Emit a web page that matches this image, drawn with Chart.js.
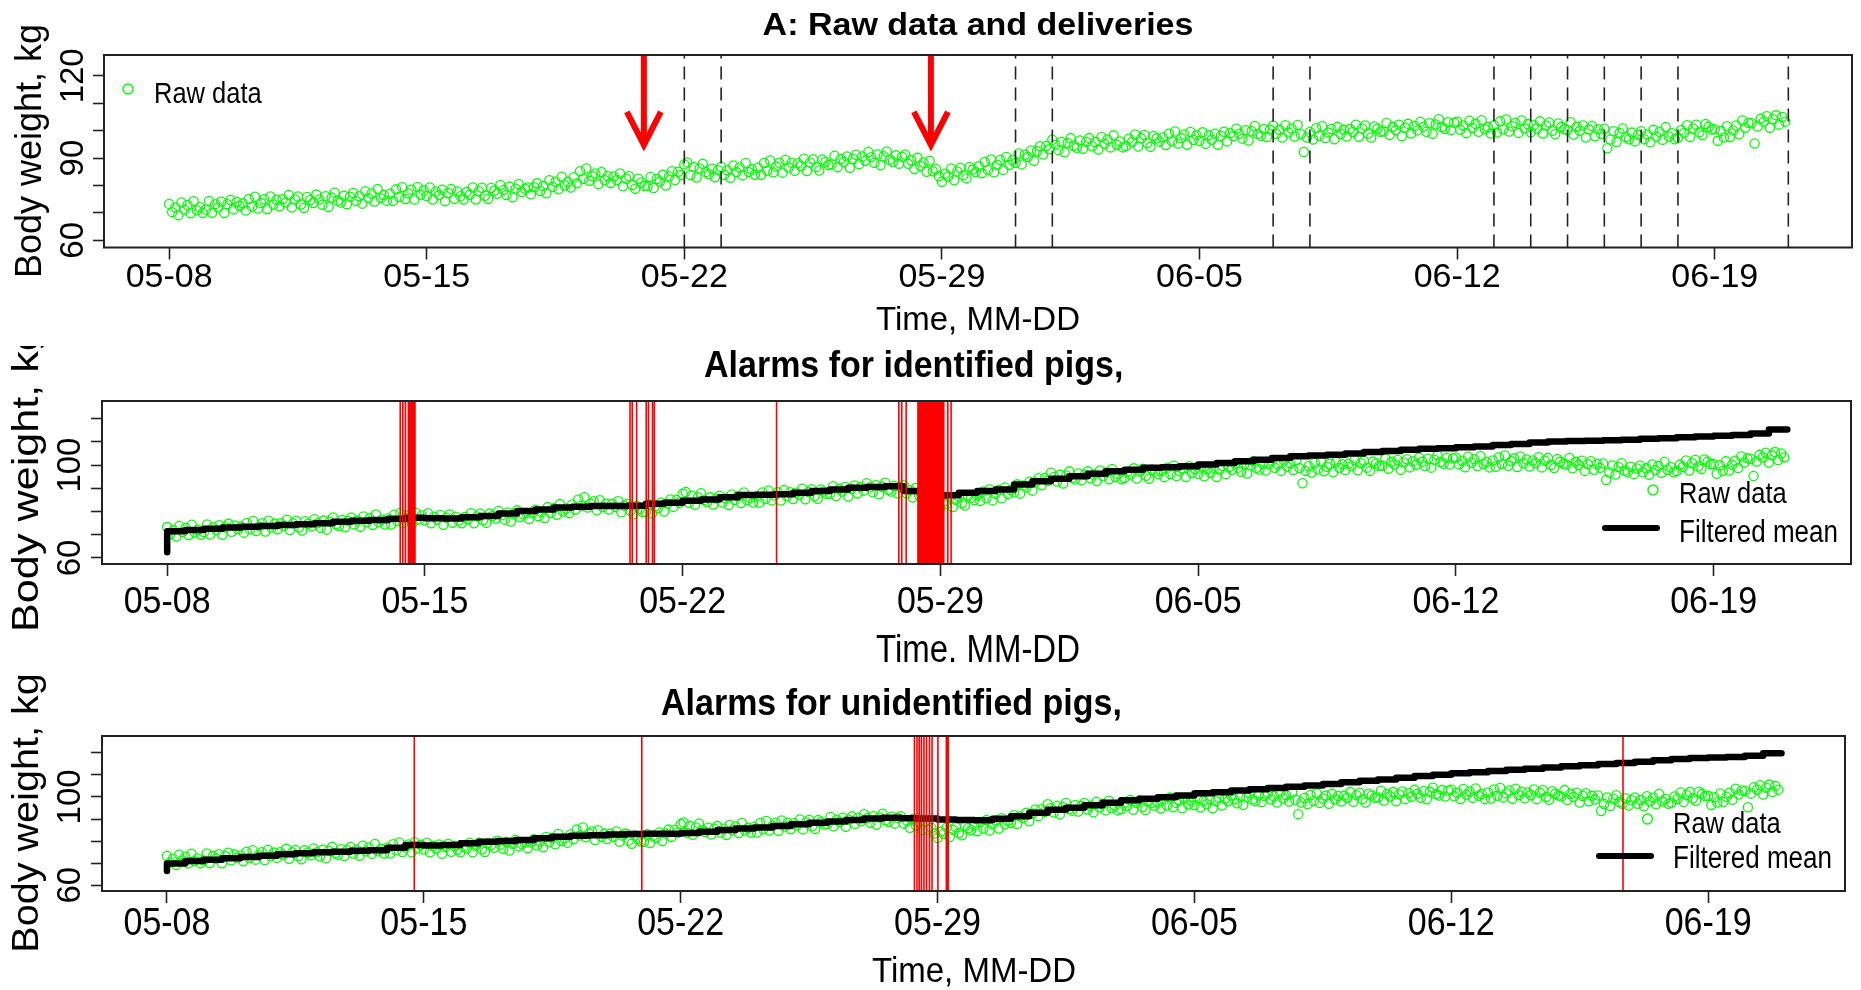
<!DOCTYPE html>
<html><head><meta charset="utf-8">
<script src="https://cdn.jsdelivr.net/npm/chart.js@4/dist/chart.umd.min.js"></script>
<style>
html,body{margin:0;padding:0;background:#fff;overflow:hidden;}
#wrap{position:relative;width:1861px;height:990px;background:#fff;}
canvas{position:absolute;left:0;}
</style></head><body>
<div id="wrap">
<canvas id="cA" width="1861" height="346" style="top:0px"></canvas>
<canvas id="cB" width="1861" height="324" style="top:346px"></canvas>
<canvas id="cC" width="1861" height="320" style="top:670px"></canvas>
</div>
<script>
// ---------------- data (x = days after 05-08) ----------------
const rawStartDay = 0;
const rawStepDay = 1 / 12;   // one reading every 2 hours
const rawWeight = [
73.3,70.3,72.0,69.2,73.8,71.2,72.9,69.9,74.3,71.0,72.1,70.0,
71.2,74.4,70.1,73.2,72.0,74.1,70.0,73.2,74.7,71.3,74.0,72.5,
73.5,70.9,75.1,72.3,75.9,71.6,73.6,75.0,71.4,76.0,73.1,74.8,
72.4,75.0,73.8,76.5,72.0,74.9,76.0,73.1,71.8,75.8,74.7,73.6,
76.7,74.9,73.0,76.1,72.2,75.6,77.4,74.5,73.8,76.3,73.2,75.9,
77.3,74.4,76.1,73.4,77.9,75.4,77.1,74.2,78.7,75.4,76.5,74.4,
77.0,74.4,78.6,75.8,79.4,75.1,77.1,78.5,74.9,79.5,76.6,78.3,
76.2,79.3,74.9,77.8,76.5,78.5,74.3,77.3,78.7,75.2,77.8,76.1,
74.9,77.6,76.6,79.3,74.9,77.9,79.2,76.3,75.1,79.1,78.1,77.0,
80.2,78.4,76.5,79.6,75.7,78.8,80.5,77.6,78.8,79.3,76.8,79.4,
80.8,78.0,79.8,77.2,81.9,79.5,81.4,78.6,83.2,80.0,81.3,79.3,
83.0,80.8,85.2,82.5,86.2,81.7,83.4,84.4,80.5,84.9,81.9,83.4,
80.9,83.3,82.0,84.4,79.7,82.5,83.4,80.2,78.8,82.5,81.1,79.8,
79.7,83.1,79.1,82.4,81.5,83.9,80.0,83.4,85.2,82.0,85.0,83.8,
87.7,88.4,83.8,86.8,82.9,86.2,87.9,84.9,84.1,86.1,83.0,85.6,
86.8,83.9,85.6,82.8,87.3,84.9,86.6,83.7,88.2,84.9,85.9,83.9,
86.5,83.9,88.2,85.4,89.1,84.8,86.9,88.3,84.7,89.3,86.6,88.3,
85.4,88.1,87.1,89.8,85.3,88.4,89.6,86.7,85.5,89.5,88.6,87.5,
87.7,90.9,86.7,89.7,88.6,90.6,86.5,89.7,91.2,87.8,90.6,89.0,
92.2,90.3,88.3,91.3,87.4,90.7,92.4,89.4,88.6,91.0,87.9,90.5,
91.3,87.9,89.2,86.0,90.1,87.1,88.4,85.0,89.0,85.2,86.0,83.4,
81.4,84.3,83.3,86.2,81.9,85.1,86.4,83.7,82.6,86.8,85.8,84.9,
87.0,84.5,88.6,85.7,89.5,84.8,87.6,89.3,85.7,90.4,87.6,89.2,
88.2,91.7,87.7,91.2,90.4,92.8,89.0,92.5,94.3,91.3,94.4,93.2,
96.7,94.9,92.9,95.9,92.1,95.5,97.3,94.5,93.8,96.4,93.4,95.9,
97.3,94.3,95.9,93.1,97.7,95.2,96.8,93.9,98.3,94.9,96.1,93.9,
94.4,97.1,95.9,98.6,94.2,97.2,98.4,95.4,94.1,98.1,97.2,96.0,
97.5,94.8,98.9,96.1,99.7,95.3,97.3,98.6,94.9,99.5,96.6,98.3,
96.2,99.4,95.2,98.3,96.7,98.9,94.9,98.1,99.6,96.1,99.1,98.0,
100.7,98.9,97.1,100.2,96.4,99.8,101.7,98.8,98.1,100.6,97.7,100.4,
101.8,98.8,100.3,97.5,102.0,99.3,100.8,97.9,102.1,98.7,92.2,97.5,
99.5,96.8,100.9,98.1,101.6,97.3,99.3,100.6,96.9,101.4,98.8,100.4,
97.9,100.6,99.5,102.2,97.8,100.8,101.9,98.9,97.5,101.5,100.7,99.6,
99.7,102.8,98.4,101.4,100.2,102.2,98.0,101.1,102.5,99.0,101.7,100.1,
103.2,101.4,99.6,102.7,98.9,102.3,104.2,101.3,100.6,103.1,100.2,102.9,
103.3,100.3,101.9,99.1,103.6,101.0,102.5,99.6,103.8,100.5,101.3,99.0,
102.0,99.3,103.4,100.5,104.1,99.7,101.6,102.9,99.2,103.7,100.8,102.4,
99.4,102.0,100.8,103.4,99.0,101.9,103.0,100.0,98.7,102.6,101.4,100.6,
100.2,103.1,98.6,101.4,100.0,101.9,97.5,100.4,101.7,98.0,100.5,98.8,
100.7,93.6,96.8,99.8,95.9,99.2,100.8,97.7,96.9,99.3,96.1,98.5,
99.8,96.9,98.6,95.8,100.3,97.9,99.6,96.7,101.3,97.9,99.1,96.9,
97.4,100.2,99.2,102.0,97.7,100.8,102.2,99.4,98.3,102.4,101.4,100.4,
100.5,96.3,99.9,97.5,101.6,97.7,100.1,101.9,98.7,103.7,101.1,102.9,
102.7,95.3,101.5,104.4,103.3,105.3,101.1,104.2,105.6,102.2,105.0,103.3
];
const meanStepDay = 0.5;
const meanIdentified = [
62.5,71.5,72.0,72.6,73.1,73.4,73.8,74.2,74.5,74.9,75.6,76.0,76.4,76.9,77.3,77.1,77.0,77.5,78.1,79.2,
80.2,80.9,81.7,82.1,82.4,82.4,82.5,83.3,83.8,84.6,85.2,86.2,87.1,87.2,87.4,88.1,88.8,89.5,90.2,90.6,
90.9,88.8,86.0,87.0,88.1,88.8,89.5,91.6,93.0,94.1,95.2,96.3,97.3,98.0,98.8,99.1,99.5,100.2,100.9,101.6,
102.3,103.0,103.8,104.1,104.5,105.0,105.6,106.1,106.6,107.0,107.3,107.7,108.0,108.6,109.1,109.7,110.2,110.4,110.5,110.7,
110.9,111.3,111.6,112.0,112.3,112.6,113.0,113.6,115.3
];
const meanUnidentified = [
66.5,69.8,71.0,71.6,72.2,72.8,73.4,74.0,74.5,74.9,75.2,75.6,75.9,77.0,78.2,78.0,78.2,79.0,79.7,80.1,
80.5,81.3,82.0,82.4,82.7,83.0,83.2,83.3,83.3,83.7,84.2,85.0,85.7,86.2,86.8,87.6,88.3,88.9,89.5,90.2,
90.6,90.4,90.2,89.8,89.5,89.4,90.1,91.3,92.8,94.2,95.1,96.2,97.4,98.5,99.2,99.9,100.6,101.7,102.1,102.9,
103.5,104.0,104.6,105.2,105.9,106.7,107.3,107.9,108.7,109.5,110.1,110.7,111.2,111.8,112.3,112.8,113.3,113.9,114.3,114.9,
115.4,115.9,116.6,117.2,117.6,117.9,118.1,118.6,119.8
];
const deliveryDays = [14, 15, 23, 24, 30, 31, 36, 37, 38, 39, 40, 41, 44];
const arrowDays = [12.9, 20.7];
const arrowTipKg = 94.8;
const alarmsIdentified = [
6.33,6.40,6.47,6.55,6.58,6.61,6.64,6.67,6.70,6.73,
12.57,12.63,12.75,13.01,13.07,13.18,13.23,
16.55,
19.87,19.95,20.07,
20.39,20.41,20.43,20.45,20.47,20.49,20.51,20.53,20.55,20.57,20.59,20.61,20.63,20.65,20.67,20.69,20.71,20.73,
20.75,20.77,20.79,20.81,20.83,20.85,20.87,20.89,20.91,20.93,20.95,20.97,20.99,21.01,21.03,21.05,21.07,21.09,
21.20,21.29
];
const alarmsUnidentified = [6.74, 12.94, 20.37, 20.44, 20.50, 20.56, 20.63, 20.70, 20.78, 20.85, 21.01, 21.24, 21.26, 21.29, 39.68];
const xTickDays = [0, 7, 14, 21, 28, 35, 42];
const xTickLabels = ['05-08', '05-15', '05-22', '05-29', '06-05', '06-12', '06-19'];
const yTickValues = [60, 70, 80, 90, 100, 110, 120];
const yTickLabelsA = ['60', '', '', '90', '', '', '120'];
const yTickLabelsBC = ['60', '', '', '', '100', '', ''];
const xMin = -1.77, xMax = 45.73, yMin = 57.4, yMax = 127.6;

// ---------------- helpers ----------------
const FONT = '"Liberation Sans", Arial, sans-serif';
function txt(ctx, s, x, y, o) {
  ctx.save();
  ctx.translate(x, y);
  if (o.rot) ctx.rotate(o.rot);
  ctx.scale(o.sx || 1, o.sy || 1);
  ctx.font = (o.bold ? 'bold ' : '') + o.size + 'px ' + FONT;
  ctx.textAlign = o.align || 'center';
  ctx.textBaseline = 'alphabetic';
  ctx.fillStyle = '#000';
  ctx.fillText(s, 0, 0);
  ctx.restore();
}
function vlines(days) {
  const pts = [];
  days.forEach(d => { pts.push({x: d, y: yMin}, {x: d, y: yMax}, {x: d, y: null}); });
  return pts;
}
const rawPoints = rawWeight.map((v, i) => ({x: rawStartDay + i * rawStepDay, y: v}));
const meanPoints = arr => arr.map((v, i) => ({x: i * meanStepDay, y: v}));

function panelPlugin(cfg) {
  return {
    id: 'panel' + cfg.name,
    afterDatasetsDraw(chart) {
      const ctx = chart.ctx, xs = chart.scales.x, ys = chart.scales.y;
      if (cfg.arrows) {
        ctx.save();
        ctx.strokeStyle = '#ff0000';
        ctx.lineWidth = 6;
        ctx.lineJoin = 'miter';
        ctx.lineCap = 'butt';
        arrowDays.forEach(d => {
          const x = xs.getPixelForValue(d);
          const yt = ys.getPixelForValue(yMax);
          const yb = ys.getPixelForValue(arrowTipKg);
          ctx.beginPath(); ctx.moveTo(x, yt); ctx.lineTo(x, yb - 3); ctx.stroke();
          ctx.beginPath(); ctx.moveTo(x - 17, yb - 33); ctx.lineTo(x, yb); ctx.lineTo(x + 17, yb - 33); ctx.stroke();
        });
        ctx.restore();
      }
    },
    afterDraw(chart) {
      const ctx = chart.ctx, xs = chart.scales.x, ys = chart.scales.y, a = chart.chartArea;
      ctx.save();
      ctx.strokeStyle = '#222';
      ctx.lineWidth = 2;
      ctx.strokeRect(a.left, a.top, a.right - a.left, a.bottom - a.top);
      ctx.restore();
      xTickDays.forEach((d, i) => txt(ctx, xTickLabels[i], xs.getPixelForValue(d), cfg.xTickBase, {size: 34, sy: cfg.xTickSy}));
      yTickValues.forEach((v, i) => {
        const lab = cfg.yLabels[i];
        if (lab) txt(ctx, lab, cfg.yTickBaseX, ys.getPixelForValue(v), {size: 33, rot: -Math.PI / 2});
      });
      const t = cfg.title;
      txt(ctx, t.s, t.x, t.y, {size: 34, bold: true, sy: t.sy, align: t.align});
      const xt = cfg.xTitle;
      txt(ctx, xt.s, xt.x, xt.y, {size: 33, sy: xt.sy});
      const yt = cfg.yTitle;
      txt(ctx, 'Body weight, kg', yt.x, yt.y, {size: 36, rot: -Math.PI / 2, sx: yt.sx});
      const L = cfg.legend;
      ctx.save();
      ctx.strokeStyle = '#00ff00';
      ctx.lineWidth = 1.4;
      ctx.beginPath(); ctx.arc(L.cx, L.cy, 5, 0, Math.PI * 2); ctx.stroke();
      ctx.restore();
      txt(ctx, 'Raw data', L.tx, L.ty1, {size: 25.5, sy: L.sy1, align: 'left'});
      if (L.line) {
        ctx.save();
        ctx.strokeStyle = '#000';
        ctx.lineWidth = 6;
        ctx.lineCap = 'round';
        ctx.beginPath(); ctx.moveTo(L.line[0], L.line[2]); ctx.lineTo(L.line[1], L.line[2]); ctx.stroke();
        ctx.restore();
        txt(ctx, 'Filtered mean', L.tx, L.ty2, {size: 26, sy: L.sy2, align: 'left'});
      }
    }
  };
}

function makePanel(id, cfg, datasets) {
  return new Chart(document.getElementById(id), {
    type: 'scatter',
    data: {datasets},
    options: {
      responsive: false, animation: false, devicePixelRatio: 1, events: [],
      layout: {padding: {top: cfg.top, right: 1861 - cfg.right, left: 0, bottom: 0}},
      plugins: {legend: {display: false}, title: {display: false}, tooltip: {enabled: false}},
      scales: {
        x: {
          type: 'linear', position: 'bottom', min: xMin, max: xMax,
          afterBuildTicks: s => { s.ticks = xTickDays.map(v => ({value: v})); },
          afterFit: s => { s.height = cfg.H - cfg.bottom; },
          ticks: {display: false},
          grid: {display: true, drawOnChartArea: false, drawTicks: true, tickLength: 12, color: '#222', tickColor: '#222', tickWidth: 1.6},
          border: {display: false}
        },
        y: {
          type: 'linear', position: 'left', min: yMin, max: yMax,
          afterBuildTicks: s => { s.ticks = yTickValues.map(v => ({value: v})); },
          afterFit: s => { s.width = cfg.left; },
          ticks: {display: false},
          grid: {display: true, drawOnChartArea: false, drawTicks: true, tickLength: 11, color: '#222', tickColor: '#222', tickWidth: 1.6},
          border: {display: false}
        }
      }
    },
    plugins: [panelPlugin(cfg)]
  });
}

const rawDataset = () => ({
  label: 'Raw data', data: rawPoints, showLine: false, order: 3,
  pointRadius: 4.6, pointBorderWidth: 1.3, pointBorderColor: '#00ff00',
  pointBackgroundColor: 'rgba(0,0,0,0)', pointStyle: 'circle'
});
const meanDataset = arr => ({
  label: 'Filtered mean', data: meanPoints(arr), showLine: true, stepped: 'after', order: 2,
  borderColor: '#000', borderWidth: 6.5, pointRadius: 0, borderJoinStyle: 'round', borderCapStyle: 'round', fill: false
});
const alarmDataset = days => ({
  label: 'Alarms', data: vlines(days), showLine: true, spanGaps: false, order: 1,
  borderColor: '#ff0000', borderWidth: 1.6, pointRadius: 0, fill: false
});

makePanel('cA', {
  name: 'A', H: 346, top: 55, bottom: 247.5, left: 104, right: 1852,
  xTickBase: 287, xTickSy: 1.0, yTickBaseX: 82.5, yLabels: yTickLabelsA,
  title: {s: 'A: Raw data and deliveries', x: 978, y: 35, sy: 0.9, align: 'center'},
  xTitle: {s: 'Time, MM-DD', x: 978, y: 330, sy: 1.03},
  yTitle: {x: 40.5, y: 151, sx: 1.0},
  legend: {cx: 128, cy: 89, tx: 154, ty1: 103, sy1: 1.18},
  arrows: true
}, [
  {label: 'Deliveries', data: vlines(deliveryDays), showLine: true, spanGaps: false, order: 1,
   borderColor: '#222', borderWidth: 1.6, borderDash: [13, 8], pointRadius: 0, fill: false},
  rawDataset()
]);

makePanel('cB', {
  name: 'B', H: 324, top: 55, bottom: 218, left: 102, right: 1851,
  xTickBase: 267, xTickSy: 1.1, yTickBaseX: 80, yLabels: yTickLabelsBC,
  title: {s: 'Alarms for identified pigs,', x: 704, y: 30.7, sy: 1.07, align: 'left'},
  xTitle: {s: 'Time. MM-DD', x: 978, y: 316, sy: 1.15},
  yTitle: {x: 38, y: 133.5, sx: 1.2},
  legend: {cx: 1653, cy: 144, tx: 1679, ty1: 157, sy1: 1.16, line: [1605, 1657, 182], ty2: 196, sy2: 1.2}
}, [alarmDataset(alarmsIdentified), meanDataset(meanIdentified), rawDataset()]);

makePanel('cC', {
  name: 'C', H: 320, top: 66, bottom: 221, left: 102, right: 1845,
  xTickBase: 265, xTickSy: 1.16, yTickBaseX: 80, yLabels: yTickLabelsBC,
  title: {s: 'Alarms for unidentified pigs,', x: 661, y: 45, sy: 1.1, align: 'left'},
  xTitle: {s: 'Time, MM-DD', x: 974, y: 312, sy: 1.06},
  yTitle: {x: 38, y: 143, sx: 1.1},
  legend: {cx: 1647.5, cy: 149, tx: 1673, ty1: 163, sy1: 1.16, line: [1599, 1651, 186], ty2: 198, sy2: 1.2}
}, [alarmDataset(alarmsUnidentified), meanDataset(meanUnidentified), rawDataset()]);
</script>
</body></html>
